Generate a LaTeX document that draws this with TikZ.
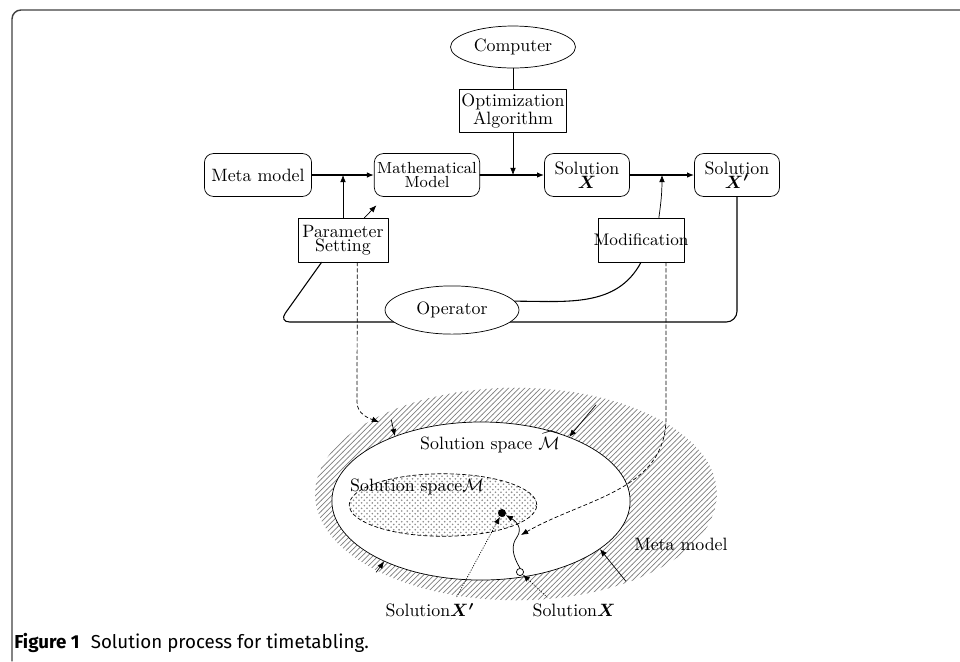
\documentclass[tikz,border=0pt]{standalone}
\usepackage{amsmath}
\usepackage[no-math]{fontspec}
\newfontfamily\capfont{Fira Sans}
\usetikzlibrary{arrows.meta,calc,shapes.geometric,patterns}

\tikzset{
  box/.style={draw, rectangle, inner sep=0pt, align=center, font=\fontsize{10}{8}\selectfont},
  rbox/.style={box, rounded corners=5pt},
  oval/.style={draw, ellipse, inner sep=0pt},
  arr/.style={-{Latex[length=4pt,width=3.2pt]}},
  dashline/.style={dash pattern=on 2pt off 1.5pt},
}

\begin{document}
\begin{tikzpicture}[x=0.56pt,y=-0.56pt,line cap=round,line join=round]
\useasboundingbox (0,0) rectangle (960,661);

% frame
\draw[line width=0.8pt, black!75, rounded corners=5pt] (12,661) -- (12,10) -- (960,10);

% process row
\node[oval, minimum width=70pt, minimum height=23.5pt] (computer) at (513,47) {Computer};
\node[box, minimum width=60pt, minimum height=24pt] (optalg) at (513,111) {Optimization\\Algorithm};
\node[rbox, minimum width=60pt, minimum height=24pt] (meta) at (258,175) {Meta model};
\node[rbox, minimum width=59pt, minimum height=24pt, font=\fontsize{9}{8}\selectfont] (math) at (427,175) {Mathematical\\Model};
\node[rbox, minimum width=47.6pt, minimum height=24pt] (solx) at (587,175) {Solution\\$\boldsymbol{X}$};
\node[rbox, minimum width=47.6pt, minimum height=24pt] (solxp) at (737,175) {Solution\\$\boldsymbol{X'}$};
\node[box, minimum width=50.4pt, minimum height=24.6pt] (param) at (343,240) {Parameter\\Setting};
\node[box, minimum width=48pt, minimum height=24.6pt, font=\fontsize{9.4}{8}\selectfont] (modif) at (641,240) {\makebox[48pt]{Modification}};

\draw (computer) -- (optalg);
\draw[arr] (optalg.south) -- (optalg.south |- math.east);
\draw[thick, arr] (meta) -- (math);
\draw[thick, arr] (math) -- (solx);
\draw[thick, arr] (solx) -- (solxp);
\draw[arr] (param.north) -- (param.north |- meta.east);
\draw[arr] ([xshift=12pt]param.north) -- ([shift={(1.4pt,-4.8pt)}]math.south west);
\draw[arr] ([xshift=10pt]modif.north) to[bend right=4] ($(solx.east)!0.5!(solxp.west)$);

% operator loop
\coordinate (loopbl) at (279,322);
\draw[semithick, rounded corners=6pt] ([xshift=-12pt]param.south) -- (loopbl) -- (loopbl -| solxp.south) -- (solxp.south);
\node[oval, fill=white, minimum width=75pt, minimum height=27pt] (oper) at (452,310) {Operator};
\draw[semithick] (oper.8) to[out=0, in=-118] (modif.south);

% solution spaces
\node[ellipse, inner sep=0pt, minimum width=225pt, minimum height=119pt, pattern=north east lines, pattern color=black!50] (metaspace) at (516,494) {};
\node[oval, fill=white, minimum width=167pt, minimum height=88.5pt] (spacehat) at (481,501) {};
\node[oval, dashline, pattern=crosshatch dots, pattern color=black!45, minimum width=105pt, minimum height=35pt] (spacem) at (443,505) {};

\node (lblhat) at (490,442) {Solution space $\widehat{\mathcal{M}}$};
\node (lblm) at (417,487) {Solution space$\mathcal{M}$};
\node (lblmeta) at (681,544) {Meta model};
\node (lblxp) at (430,610) {Solution$\boldsymbol{X'}$};
\node (lblx) at (574,610) {Solution$\boldsymbol{X}$};

\node[circle, fill, inner sep=0pt, minimum size=4.5pt] (xp) at (502,513) {};
\node[circle, draw, fill=white, inner sep=0pt, minimum size=4pt] (xo) at (520,572) {};

% boundary arrows
\draw[arr] ([shift={(-2pt,9pt)}]spacehat.143) -- (spacehat.143);
\draw[arr] ([shift={(15pt,18pt)}]spacehat.36) -- (spacehat.36);
\draw[arr] ([shift={(-4.5pt,-6pt)}]spacehat.212) -- (spacehat.212);
\draw[arr] ([shift={(14.5pt,-18pt)}]spacehat.338) -- (spacehat.338);

% search path
\draw[arr] (xo.north) .. controls (512,555) and (511,545) .. (517,537) .. controls (523,528) and (516,521) .. (xp);
\draw[densely dotted, arr] ([xshift=15pt]lblxp.north) -- (xp);
\draw[densely dotted, arr] ([xshift=-15pt]lblx.north) -- (xo);

% operator actions
\coordinate (parbend) at (357,402);
\coordinate (parend) at (379,422);
\draw[dashline, arr] ([xshift=8pt]param.south) -- (parbend) to[out=-90, in=160] (parend);
\coordinate (modbend) at (666,418);
\coordinate (modend) at (521,535);
\draw[dashline, arr] ([xshift=14pt]modif.south) -- (modbend) to[out=-90, in=30] (modend);

% caption
\node[anchor=base west, inner sep=0pt, font=\capfont\fontsize{10.5}{12}\selectfont] (caption) at (14,648) {\textbf{Figure 1}\hspace{0.6em}Solution process for timetabling.};

\end{tikzpicture}
\end{document}
